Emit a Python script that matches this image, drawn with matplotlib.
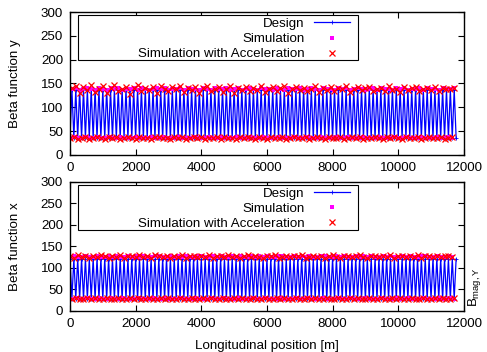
import numpy as np
import matplotlib.pyplot as plt
from matplotlib.patches import Rectangle

plt.rcParams['font.family'] = ['Liberation Sans', 'DejaVu Sans']
plt.rcParams['mathtext.fontset'] = 'custom'
plt.rcParams['mathtext.rm'] = 'Liberation Sans'
plt.rcParams['mathtext.it'] = 'Liberation Sans'

FS = 9.6

# lattice: periodic FODO cells
N_CELLS = 100
CELL_LEN = 117.6          # m
DESIGN_CELL_Y = [36, 137]  # beta_y at cell start / cell middle
DESIGN_CELL_X = [121, 29]  # beta_x at cell start / cell middle

# simulated beta at the quadrupoles (one value per cell)
SIM_Y_MAX = [138, 140, 137, 139, 141, 138, 136, 140, 139, 137, 141, 138, 140, 137, 139, 138, 141, 136, 140, 139,
             137, 139, 141, 138, 140, 136, 139, 138, 141, 137, 140, 138, 139, 136, 141, 139, 137, 140, 138, 139,
             141, 137, 138, 140, 136, 139, 141, 138, 137, 140, 139, 138, 136, 141, 139, 137, 140, 138, 139, 141,
             136, 138, 140, 139, 137, 141, 138, 139, 136, 140, 138, 141, 137, 139, 140, 138, 136, 139, 141, 137,
             140, 138, 139, 137, 141, 138, 140, 136, 139, 138, 140, 137, 141, 139, 138, 136, 140, 139, 138, 140]
ACC_Y_MAX = [140, 145, 131, 142, 137, 146, 133, 139, 144, 130, 141, 147, 135, 138, 143, 129, 140, 146, 134, 141,
             137, 143, 131, 145, 139, 134, 142, 138, 144, 132, 140, 136, 143, 130, 141, 145, 135, 139, 142, 133,
             138, 144, 131, 140, 136, 143, 134, 141, 137, 145, 132, 139, 142, 135, 140, 144, 131, 138, 143, 136,
             141, 134, 139, 145, 132, 140, 137, 143, 135, 141, 138, 144, 133, 139, 142, 136, 140, 143, 134, 138,
             141, 135, 144, 137, 139, 132, 142, 136, 140, 143, 134, 139, 141, 137, 142, 135, 140, 138, 139, 141]
SIM_Y_MIN = [36, 37, 35, 36, 37, 36, 35, 37, 36, 36, 37, 35, 36, 37, 36, 35, 36, 37, 36, 36,
             35, 37, 36, 36, 37, 35, 36, 36, 37, 36, 35, 36, 37, 36, 36, 35, 37, 36, 36, 37,
             36, 35, 36, 37, 36, 36, 35, 37, 36, 36, 37, 36, 35, 36, 37, 36, 36, 35, 37, 36,
             36, 37, 35, 36, 36, 37, 36, 35, 36, 37, 36, 36, 37, 35, 36, 36, 37, 36, 35, 36,
             37, 36, 36, 35, 37, 36, 36, 37, 35, 36, 36, 37, 36, 35, 36, 37, 36, 36, 37, 36]
ACC_Y_MIN = [35, 38, 34, 36, 37, 33, 36, 38, 35, 34, 37, 36, 38, 34, 35, 37, 36, 33, 38, 35,
             36, 34, 37, 38, 35, 36, 33, 37, 35, 38, 34, 36, 37, 35, 38, 34, 36, 35, 37, 33,
             38, 36, 35, 34, 37, 36, 38, 35, 34, 37, 36, 33, 38, 35, 36, 37, 34, 35, 38, 36,
             35, 37, 34, 36, 38, 35, 33, 37, 36, 35, 38, 34, 36, 37, 35, 38, 34, 36, 35, 37,
             36, 34, 38, 35, 37, 36, 33, 38, 35, 36, 37, 34, 35, 38, 36, 35, 37, 34, 36, 37]

SIM_X_MAX = [126, 127, 125, 126, 128, 126, 125, 127, 126, 125, 128, 126, 127, 125, 126, 127, 125, 128, 126, 127,
             125, 126, 128, 127, 125, 126, 127, 126, 128, 125, 127, 126, 125, 127, 128, 126, 125, 127, 126, 128,
             126, 125, 127, 126, 128, 125, 126, 127, 125, 128, 126, 127, 125, 126, 128, 127, 125, 126, 127, 125,
             128, 126, 127, 125, 126, 128, 127, 125, 126, 127, 125, 128, 126, 126, 127, 125, 128, 126, 127, 125,
             126, 128, 125, 127, 126, 125, 128, 126, 127, 125, 126, 127, 128, 125, 126, 127, 125, 126, 128, 126]
ACC_X_MAX = [127, 124, 130, 126, 128, 123, 129, 125, 131, 127, 124, 128, 126, 130, 123, 127, 129, 125, 131, 126,
             128, 124, 130, 127, 125, 129, 123, 128, 126, 131, 124, 127, 129, 125, 128, 126, 130, 123, 127, 129,
             125, 131, 126, 128, 124, 127, 130, 125, 129, 126, 123, 128, 127, 130, 124, 126, 129, 125, 128, 127,
             131, 124, 126, 129, 125, 128, 123, 127, 130, 126, 124, 129, 127, 125, 128, 130, 126, 124, 127, 129,
             125, 128, 126, 131, 124, 127, 129, 125, 128, 126, 130, 124, 127, 128, 125, 129, 126, 127, 128, 126]
SIM_X_MIN = [29, 30, 28, 29, 30, 29, 28, 30, 29, 29, 30, 28, 29, 30, 29, 28, 29, 30, 29, 29,
             28, 30, 29, 29, 30, 28, 29, 29, 30, 29, 28, 29, 30, 29, 29, 28, 30, 29, 29, 30,
             29, 28, 29, 30, 29, 29, 28, 30, 29, 29, 30, 29, 28, 29, 30, 29, 29, 28, 30, 29,
             29, 30, 28, 29, 29, 30, 29, 28, 29, 30, 29, 29, 30, 28, 29, 29, 30, 29, 28, 29,
             30, 29, 29, 28, 30, 29, 29, 30, 28, 29, 29, 30, 29, 28, 29, 30, 29, 29, 30, 29]
ACC_X_MIN = [28, 31, 27, 29, 30, 28, 31, 29, 27, 30, 29, 28, 31, 27, 29, 30, 28, 31, 29, 27,
             30, 28, 29, 31, 27, 30, 29, 28, 31, 29, 27, 30, 28, 29, 31, 27, 30, 29, 28, 31,
             29, 27, 30, 28, 31, 29, 27, 30, 29, 28, 31, 27, 29, 30, 28, 31, 29, 27, 30, 28,
             29, 31, 27, 30, 29, 28, 31, 29, 27, 30, 28, 29, 31, 27, 30, 29, 28, 31, 29, 27,
             30, 28, 29, 31, 27, 30, 29, 28, 31, 29, 27, 30, 28, 29, 31, 27, 30, 29, 28, 30]

BLUE = '#0000ff'
MAGENTA = '#ff00ff'
RED = '#ff0000'


def design_curve(cell_vals):
    s = np.arange(2 * N_CELLS + 1) * CELL_LEN / 2
    beta = np.array(list(cell_vals) * N_CELLS + [cell_vals[0]], dtype=float)
    return s, beta


def draw_plane(ax, cell_vals, sim_hi, acc_hi, sim_lo, acc_lo, hi_at_mid, ylabel, key_box):
    s, beta = design_curve(cell_vals)
    ax.plot(s, beta, color=BLUE, lw=0.9, marker='+', ms=3, mew=0.6, label='Design')
    s_start = np.arange(N_CELLS) * CELL_LEN
    s_mid = s_start + CELL_LEN / 2
    s_hi, s_lo = (s_mid, s_start) if hi_at_mid else (s_start, s_mid)
    ax.plot(np.concatenate([s_hi, s_lo]), np.concatenate([sim_hi, sim_lo]), ls='none',
            marker='s', ms=2.6, color=MAGENTA, mew=0, label='Simulation')
    ax.plot(np.concatenate([s_hi, s_lo]), np.concatenate([acc_hi, acc_lo]), ls='none',
            marker='x', ms=3.8, mew=0.9, color=RED, label='Simulation with Acceleration')
    ax.set_xlim(0, 12000)
    ax.set_ylim(0, 300)
    ax.set_xticks(np.arange(0, 12001, 2000))
    ax.set_yticks(np.arange(0, 301, 50))
    ax.tick_params(direction='in', top=True, right=True, labelsize=FS, length=4, width=0.8, pad=5)
    for sp in ax.spines.values():
        sp.set_linewidth(1.0)
    ax.set_ylabel(ylabel, fontsize=FS, labelpad=14)

    # gnuplot-like key: wide box, labels right-aligned next to the samples
    x0, y0, x1, y1 = key_box
    ax.add_patch(Rectangle((x0, y0), x1 - x0, y1 - y0, transform=ax.transAxes,
                           fill=True, facecolor='white', edgecolor='black', lw=0.8, zorder=4))
    ax.legend(loc='upper right', bbox_to_anchor=(x1 - 0.02, y1 - 0.018), fontsize=FS,
              markerfirst=False, frameon=False, handlelength=2.7, handletextpad=0.7,
              borderpad=0, labelspacing=0.22, borderaxespad=0).set_zorder(5)


fig = plt.figure(figsize=(4.87, 3.52), dpi=100)
ax1 = fig.add_axes([0.1437, 0.5597, 0.8091, 0.4062])
ax2 = fig.add_axes([0.1437, 0.1165, 0.8091, 0.3665])

draw_plane(ax1, DESIGN_CELL_Y, SIM_Y_MAX, ACC_Y_MAX, SIM_Y_MIN, ACC_Y_MIN, True,
           'Beta function y', (0.0203, 0.664, 0.731, 0.979))
draw_plane(ax2, DESIGN_CELL_X, SIM_X_MAX, ACC_X_MAX, SIM_X_MIN, ACC_X_MIN, False,
           'Beta function x', (0.0203, 0.628, 0.731, 0.977))
ax2.set_xlabel('Longitudinal position [m]', fontsize=FS, labelpad=7)
fig.text(0.975, 0.185, r'$B_{mag,Y}$', rotation=90, fontsize=FS, ha='center', va='center')

fig.savefig('out.png', dpi=100)
